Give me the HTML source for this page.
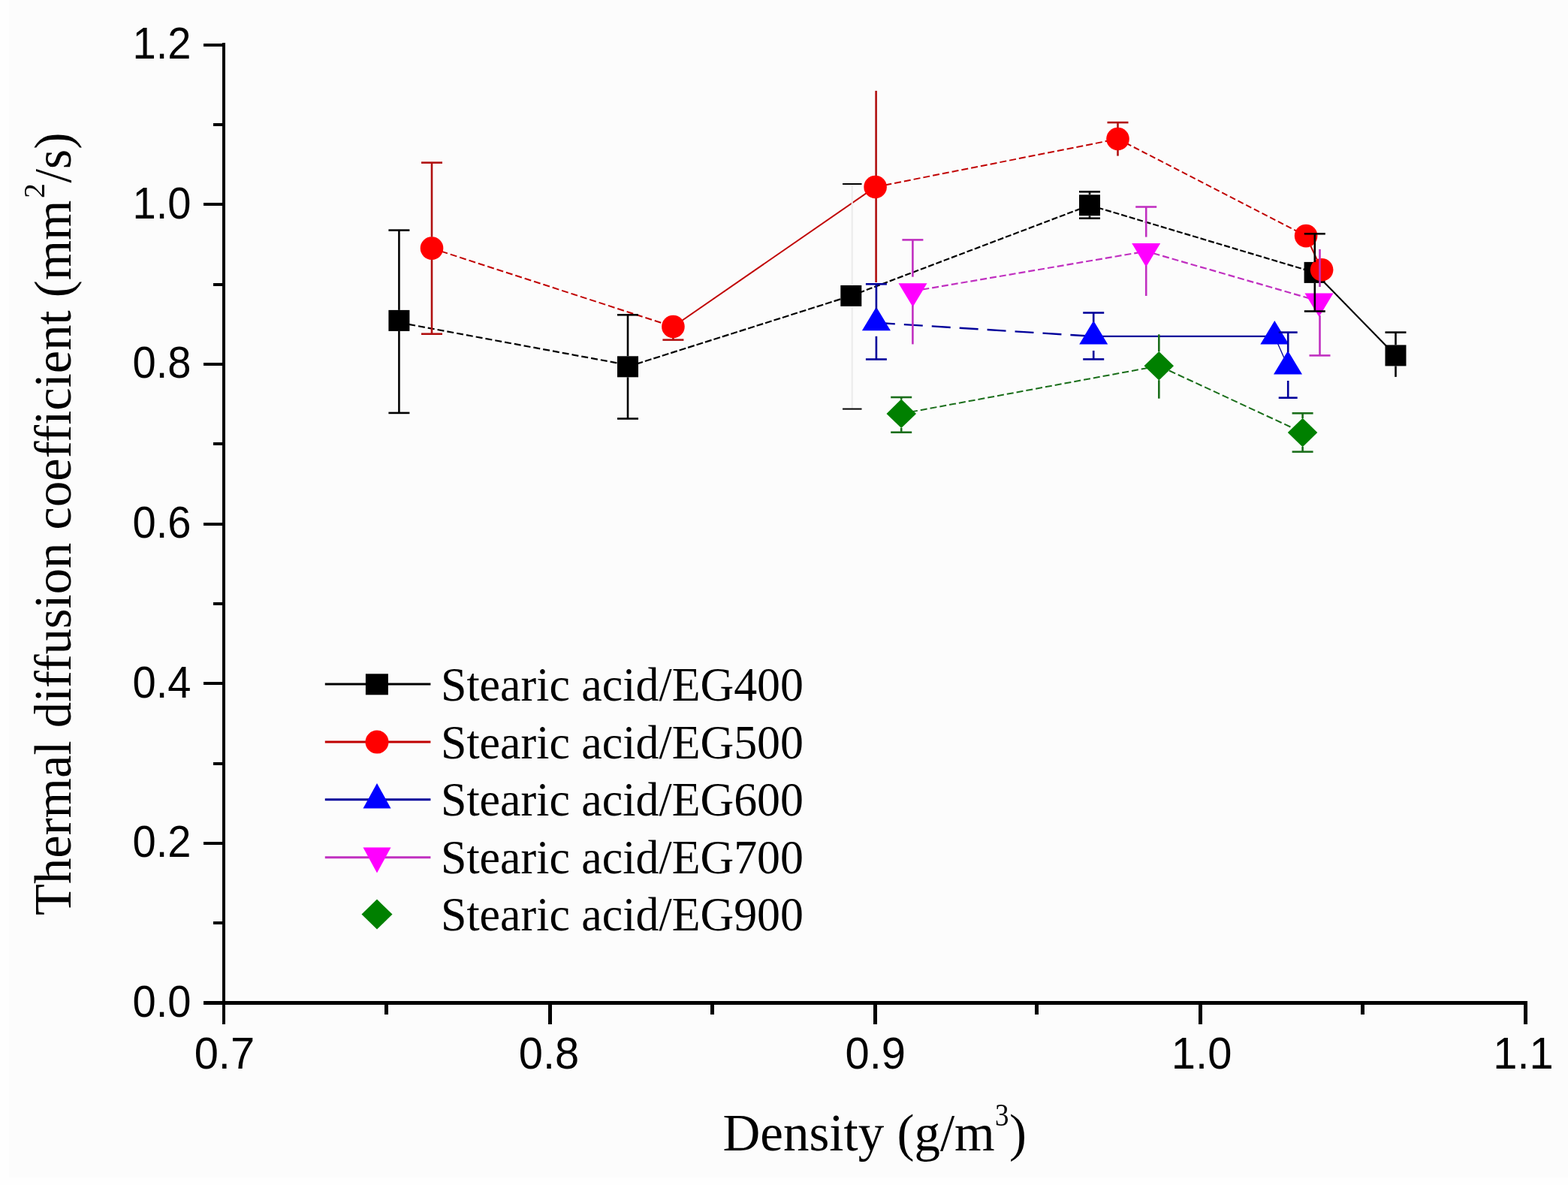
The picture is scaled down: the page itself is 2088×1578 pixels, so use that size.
<!DOCTYPE html>
<html><head><meta charset="utf-8"><title>Thermal diffusion coefficient vs Density</title>
<style>html,body{margin:0;padding:0;background:#fcfcfc;overflow:hidden;}svg{display:block;}text{font-variant-ligatures:none;}</style></head>
<body>
<svg width="2088" height="1578" viewBox="0 0 2088 1578">
<rect width="2088" height="1578" fill="#fcfcfc"/><rect x="0" y="0" width="12" height="1578" fill="#fefefe"/><rect x="0" y="1568" width="2088" height="10" fill="#fefefe"/>
<g stroke="#000" stroke-width="4" fill="none" shape-rendering="crispEdges">
<path d="M297.8 57.3 V1363.6"/><path d="M271 1335.5 H2034" stroke-width="4.6"/>
<path d="M271 1335.6 H298"/>
<path d="M271 1122.9 H298"/>
<path d="M271 910.2 H298"/>
<path d="M271 697.6 H298"/>
<path d="M271 484.9 H298"/>
<path d="M271 272.2 H298"/>
<path d="M271 59.5 H298"/>
<path d="M284 1229.3 H298"/>
<path d="M284 1016.6 H298"/>
<path d="M284 803.9 H298"/>
<path d="M284 591.2 H298"/>
<path d="M284 378.5 H298"/>
<path d="M284 165.9 H298"/>
<path d="M732.4 1335.6 V1363.6" stroke-width="5"/>
<path d="M1165.4 1335.6 V1363.6" stroke-width="5"/>
<path d="M1598.4 1335.6 V1363.6" stroke-width="5"/>
<path d="M2031.5 1335.6 V1363.6" stroke-width="5"/>
<path d="M514.7 1335.6 V1351" stroke-width="5"/>
<path d="M948.8 1335.6 V1351" stroke-width="5"/>
<path d="M1380.8 1335.6 V1351" stroke-width="5"/>
<path d="M1814.8 1335.6 V1351" stroke-width="5"/>
</g>
<g font-family="'Liberation Sans', Arial, Helvetica, sans-serif" fill="#000">
<text x="254.5" y="1353.9" font-size="60" text-anchor="end" textLength="78.0" lengthAdjust="spacingAndGlyphs">0.0</text>
<text x="254.5" y="1141.2" font-size="60" text-anchor="end" textLength="78.0" lengthAdjust="spacingAndGlyphs">0.2</text>
<text x="254.5" y="928.5" font-size="60" text-anchor="end" textLength="78.0" lengthAdjust="spacingAndGlyphs">0.4</text>
<text x="254.5" y="715.9" font-size="60" text-anchor="end" textLength="78.0" lengthAdjust="spacingAndGlyphs">0.6</text>
<text x="254.5" y="503.2" font-size="60" text-anchor="end" textLength="78.0" lengthAdjust="spacingAndGlyphs">0.8</text>
<text x="254.5" y="290.5" font-size="60" text-anchor="end" textLength="78.0" lengthAdjust="spacingAndGlyphs">1.0</text>
<text x="254.5" y="77.8" font-size="60" text-anchor="end" textLength="78.0" lengthAdjust="spacingAndGlyphs">1.2</text>
<text x="298.9" y="1422.6" font-size="60" text-anchor="middle" textLength="80.5" lengthAdjust="spacingAndGlyphs">0.7</text>
<text x="731.0" y="1422.6" font-size="60" text-anchor="middle" textLength="80.5" lengthAdjust="spacingAndGlyphs">0.8</text>
<text x="1165.8" y="1422.6" font-size="60" text-anchor="middle" textLength="80.5" lengthAdjust="spacingAndGlyphs">0.9</text>
<text x="1600.1" y="1422.6" font-size="60" text-anchor="middle" textLength="80.5" lengthAdjust="spacingAndGlyphs">1.0</text>
<text x="2028.5" y="1422.6" font-size="60" text-anchor="middle" textLength="80.5" lengthAdjust="spacingAndGlyphs">1.1</text>
</g>
<g font-family="'Liberation Serif', 'Times New Roman', Times, serif" fill="#000"><text x="962.5" y="1532.3" font-size="69">Density (g/m</text><text x="1325" y="1498.5" font-size="42" textLength="18.5" lengthAdjust="spacingAndGlyphs">3</text><text x="1344" y="1532.3" font-size="69">)</text></g>
<text transform="translate(93.8 0) rotate(-90)" font-family="'Liberation Serif', 'Times New Roman', Times, serif" font-size="69" fill="#000"><tspan x="-1219" y="0" textLength="952.5" lengthAdjust="spacingAndGlyphs">Thermal diffusion coefficient (mm</tspan><tspan x="-264" y="-35" font-size="40">2</tspan><tspan x="-243.5" y="0" textLength="67" lengthAdjust="spacingAndGlyphs">/s)</tspan></text>
<g fill="none">
<polyline points="531.4,429.5 836.0,486.0" fill="none" stroke="#000" stroke-width="2.2" stroke-dasharray="9 4"/>
<polyline points="836.0,488.3 1133.3,393.9" fill="none" stroke="#000" stroke-width="2.2" stroke-dasharray="9 3"/>
<polyline points="1133.3,393.9 1451.0,273.3" fill="none" stroke="#000" stroke-width="2.2" stroke-dasharray="8 3"/>
<polyline points="1451.0,273.3 1750.6,362.9" fill="none" stroke="#000" stroke-width="2.2" stroke-dasharray="8 3"/>
<polyline points="1750.6,362.9 1858.5,473.4" fill="none" stroke="#000" stroke-width="2.2"/>
<polyline points="575.0,330.6 896.4,435.0" fill="none" stroke="#c00000" stroke-width="2.0" stroke-dasharray="9 4"/>
<polyline points="896.4,435.0 1165.6,249.0" fill="none" stroke="#c00000" stroke-width="2.0"/>
<polyline points="1165.6,249.0 1488.5,185.0" fill="none" stroke="#c00000" stroke-width="2.0" stroke-dasharray="9 4"/>
<polyline points="1488.5,185.0 1739.1,314.1" fill="none" stroke="#c00000" stroke-width="2.0" stroke-dasharray="8 4"/>
<polyline points="1739.1,314.1 1760.1,359.3" fill="none" stroke="#c00000" stroke-width="2.0"/>
<polyline points="1166.9,429.8 1456.2,447.9" fill="none" stroke="#00009a" stroke-width="2.4" stroke-dasharray="25 12"/>
<polyline points="1456.2,447.9 1697.3,447.9" fill="none" stroke="#00009a" stroke-width="2.4"/>
<polyline points="1697.3,447.9 1715.0,488.0" fill="none" stroke="#00009a" stroke-width="1.3"/>
<polyline points="1215.5,387.7 1526.2,334.6 1756.5,401.0" fill="none" stroke="#c030c0" stroke-width="2.2" stroke-dasharray="9 4"/>
<polyline points="1200.2,550.9 1543.3,487.2 1734.6,576.0" fill="none" stroke="#1a6e1a" stroke-width="2.0" stroke-dasharray="9 4"/>
<rect x="517.4" y="412.9" width="28" height="28" fill="#000000"/>
<rect x="822.0" y="474.3" width="28" height="28" fill="#000000"/>
<rect x="1119.3" y="379.9" width="28" height="28" fill="#000000"/>
<rect x="1437.0" y="259.3" width="28" height="28" fill="#000000"/>
<circle cx="575.0" cy="330.6" r="15.3" fill="#ff0000"/>
<circle cx="896.4" cy="435.0" r="15.3" fill="#ff0000"/>
<circle cx="1165.6" cy="249.0" r="15.3" fill="#ff0000"/>
<circle cx="1488.5" cy="185.0" r="15.3" fill="#ff0000"/>
<circle cx="1739.1" cy="314.1" r="15.3" fill="#ff0000"/>
<rect x="1736.6" y="348.9" width="28" height="28" fill="#000000"/>
<circle cx="1760.1" cy="359.3" r="15.3" fill="#ff0000"/>
<rect x="1844.5" y="459.4" width="28" height="28" fill="#000000"/>
<path d="M1166.9 408.8 L1185.9 440.3 L1147.9 440.3Z" fill="#0000ff"/>
<path d="M1456.2 426.9 L1475.2 458.4 L1437.2 458.4Z" fill="#0000ff"/>
<path d="M1697.3 426.9 L1716.3 458.4 L1678.3 458.4Z" fill="#0000ff"/>
<path d="M1715.0 467.0 L1734.0 498.5 L1696.0 498.5Z" fill="#0000ff"/>
<path d="M1215.5 408.7 L1234.5 377.2 L1196.5 377.2Z" fill="#ff00ff"/>
<path d="M1526.2 355.6 L1545.2 324.1 L1507.2 324.1Z" fill="#ff00ff"/>
<path d="M1756.5 422.0 L1775.5 390.5 L1737.5 390.5Z" fill="#ff00ff"/>
<path d="M1200.2 531.6 L1220.0 550.9 L1200.2 570.1 L1180.5 550.9Z" fill="#008000"/>
<path d="M1543.3 467.9 L1563.0 487.2 L1543.3 506.4 L1523.5 487.2Z" fill="#008000"/>
<path d="M1734.6 556.8 L1754.3 576.0 L1734.6 595.2 L1714.8 576.0Z" fill="#008000"/>
<path d="M531.4 306.6 V412.9" stroke="#000000" stroke-width="2.6"/><path d="M531.4 440.9 V549.9" stroke="#000000" stroke-width="2.6"/><path d="M517.4 306.6 H545.4" stroke="#000000" stroke-width="2.6"/><path d="M517.4 549.9 H545.4" stroke="#000000" stroke-width="2.6"/>
<path d="M836.0 419.3 V474.3" stroke="#000000" stroke-width="2.6"/><path d="M836.0 502.3 V557.5" stroke="#000000" stroke-width="2.6"/><path d="M822.0 419.3 H850.0" stroke="#000000" stroke-width="2.6"/><path d="M822.0 557.5 H850.0" stroke="#000000" stroke-width="2.6"/>
<path d="M1134.7 245.0 V379.9" stroke="#ebebeb" stroke-width="2.0"/><path d="M1134.7 407.9 V544.6" stroke="#ebebeb" stroke-width="2.0"/><path d="M1122.0 245.0 H1147.5" stroke="#000000" stroke-width="2.0"/><path d="M1122.0 544.6 H1147.5" stroke="#000000" stroke-width="2.0"/>
<path d="M1451.0 255.3 V259.3" stroke="#000000" stroke-width="2.6"/><path d="M1451.0 287.3 V290.7" stroke="#000000" stroke-width="2.6"/><path d="M1437.0 255.3 H1465.0" stroke="#000000" stroke-width="2.6"/><path d="M1437.0 290.7 H1465.0" stroke="#000000" stroke-width="2.6"/>
<path d="M1750.8 311.3 V348.9" stroke="#000000" stroke-width="2.6"/><path d="M1750.8 376.9 V414.5" stroke="#000000" stroke-width="2.6"/><path d="M1736.8 311.3 H1764.8" stroke="#000000" stroke-width="2.6"/><path d="M1736.8 414.5 H1764.8" stroke="#000000" stroke-width="2.6"/>
<path d="M1858.5 442.6 V459.4" stroke="#000000" stroke-width="2.6"/><path d="M1858.5 487.4 V501.9" stroke="#000000" stroke-width="2.6"/><path d="M1844.5 442.6 H1872.5" stroke="#000000" stroke-width="2.6"/>
<path d="M575.0 216.6 V315.6" stroke="#b01010" stroke-width="2.6"/><path d="M575.0 345.6 V444.7" stroke="#b01010" stroke-width="2.6"/><path d="M561.0 216.6 H589.0" stroke="#b01010" stroke-width="2.6"/><path d="M561.0 444.7 H589.0" stroke="#b01010" stroke-width="2.6"/>
<path d="M896.4 450.0 V452.6" stroke="#b01010" stroke-width="2.6"/><path d="M882.4 452.6 H910.4" stroke="#b01010" stroke-width="2.6"/>
<path d="M1166.6 120.9 V234.0" stroke="#b01010" stroke-width="2.6"/><path d="M1166.6 264.0 V376.0" stroke="#b01010" stroke-width="2.6"/>
<path d="M1488.5 163.1 V170.0" stroke="#b01010" stroke-width="2.6"/><path d="M1488.5 200.0 V207.6" stroke="#b01010" stroke-width="2.6"/><path d="M1474.5 163.1 H1502.5" stroke="#b01010" stroke-width="2.6"/>
<path d="M1166.9 378.3 V411.8" stroke="#00009a" stroke-width="2.6"/><path d="M1166.9 447.8 V478.5" stroke="#00009a" stroke-width="2.6"/><path d="M1152.9 378.3 H1180.9" stroke="#00009a" stroke-width="2.6"/><path d="M1152.9 478.5 H1180.9" stroke="#00009a" stroke-width="2.6"/>
<path d="M1456.2 416.5 V428.9" stroke="#00009a" stroke-width="2.6"/><path d="M1456.2 466.9 V478.4" stroke="#00009a" stroke-width="2.6"/><path d="M1442.2 416.5 H1470.2" stroke="#00009a" stroke-width="2.6"/><path d="M1442.2 478.4 H1470.2" stroke="#00009a" stroke-width="2.6"/>
<path d="M1715.2 442.6 V469.0" stroke="#00009a" stroke-width="2.6"/><path d="M1715.2 507.0 V529.7" stroke="#00009a" stroke-width="2.6"/><path d="M1702.7 442.6 H1727.7" stroke="#00009a" stroke-width="2.6"/><path d="M1702.7 529.7 H1727.7" stroke="#00009a" stroke-width="2.6"/>
<path d="M1215.4 319.4 V368.7" stroke="#c030c0" stroke-width="2.6"/><path d="M1215.4 406.7 V458.4" stroke="#c030c0" stroke-width="2.6"/><path d="M1201.4 319.4 H1229.4" stroke="#c030c0" stroke-width="2.6"/>
<path d="M1526.2 275.5 V315.6" stroke="#c030c0" stroke-width="2.6"/><path d="M1526.2 353.6 V394.0" stroke="#c030c0" stroke-width="2.6"/><path d="M1512.2 275.5 H1540.2" stroke="#c030c0" stroke-width="2.6"/>
<path d="M1757.5 331.9 V382.0" stroke="#c030c0" stroke-width="2.6"/><path d="M1757.5 420.0 V473.4" stroke="#c030c0" stroke-width="2.6"/><path d="M1743.5 473.4 H1771.5" stroke="#c030c0" stroke-width="2.6"/>
<path d="M1200.2 529.0 V531.9" stroke="#1a6e1a" stroke-width="2.6"/><path d="M1200.2 569.9 V575.7" stroke="#1a6e1a" stroke-width="2.6"/><path d="M1186.2 529.0 H1214.2" stroke="#1a6e1a" stroke-width="2.6"/><path d="M1186.2 575.7 H1214.2" stroke="#1a6e1a" stroke-width="2.6"/>
<path d="M1543.3 445.3 V468.2" stroke="#1a6e1a" stroke-width="2.6"/><path d="M1543.3 506.2 V530.7" stroke="#1a6e1a" stroke-width="2.6"/>
<path d="M1734.6 550.3 V557.0" stroke="#1a6e1a" stroke-width="2.6"/><path d="M1734.6 595.0 V601.6" stroke="#1a6e1a" stroke-width="2.6"/><path d="M1720.6 550.3 H1748.6" stroke="#1a6e1a" stroke-width="2.6"/><path d="M1720.6 601.6 H1748.6" stroke="#1a6e1a" stroke-width="2.6"/>
</g>
<g>
<path d="M432.8 911.0 H573.4" stroke="#000" stroke-width="3"/>
<path d="M432.8 988.1 H573.4" stroke="#c00000" stroke-width="3"/>
<path d="M432.8 1064.8 H573.4" stroke="#00009a" stroke-width="3"/>
<path d="M432.8 1141.8 H573.4" stroke="#c030c0" stroke-width="3"/>
<rect x="486.9" y="897.3" width="30" height="28" fill="#000000"/>
<circle cx="502.0" cy="988.1" r="15.5" fill="#ff0000"/>
<path d="M502.0 1043.0 L520.5 1076.5 L483.5 1076.5Z" fill="#0000ff"/>
<path d="M502.0 1162.5 L520.5 1128.5 L483.5 1128.5Z" fill="#ff00ff"/>
<path d="M502.0 1197.6 L522.5 1217.6 L502.0 1237.6 L481.5 1217.6Z" fill="#008000"/>
<g font-family="'Liberation Serif', 'Times New Roman', Times, serif" font-size="64" fill="#000">
<text x="587" y="932.6" textLength="483" lengthAdjust="spacingAndGlyphs">Stearic acid/EG400</text>
<text x="587" y="1009.7" textLength="483" lengthAdjust="spacingAndGlyphs">Stearic acid/EG500</text>
<text x="587" y="1086.4" textLength="483" lengthAdjust="spacingAndGlyphs">Stearic acid/EG600</text>
<text x="587" y="1163.4" textLength="483" lengthAdjust="spacingAndGlyphs">Stearic acid/EG700</text>
<text x="587" y="1239.2" textLength="483" lengthAdjust="spacingAndGlyphs">Stearic acid/EG900</text>
</g>
</g>
</svg>
</body></html>
